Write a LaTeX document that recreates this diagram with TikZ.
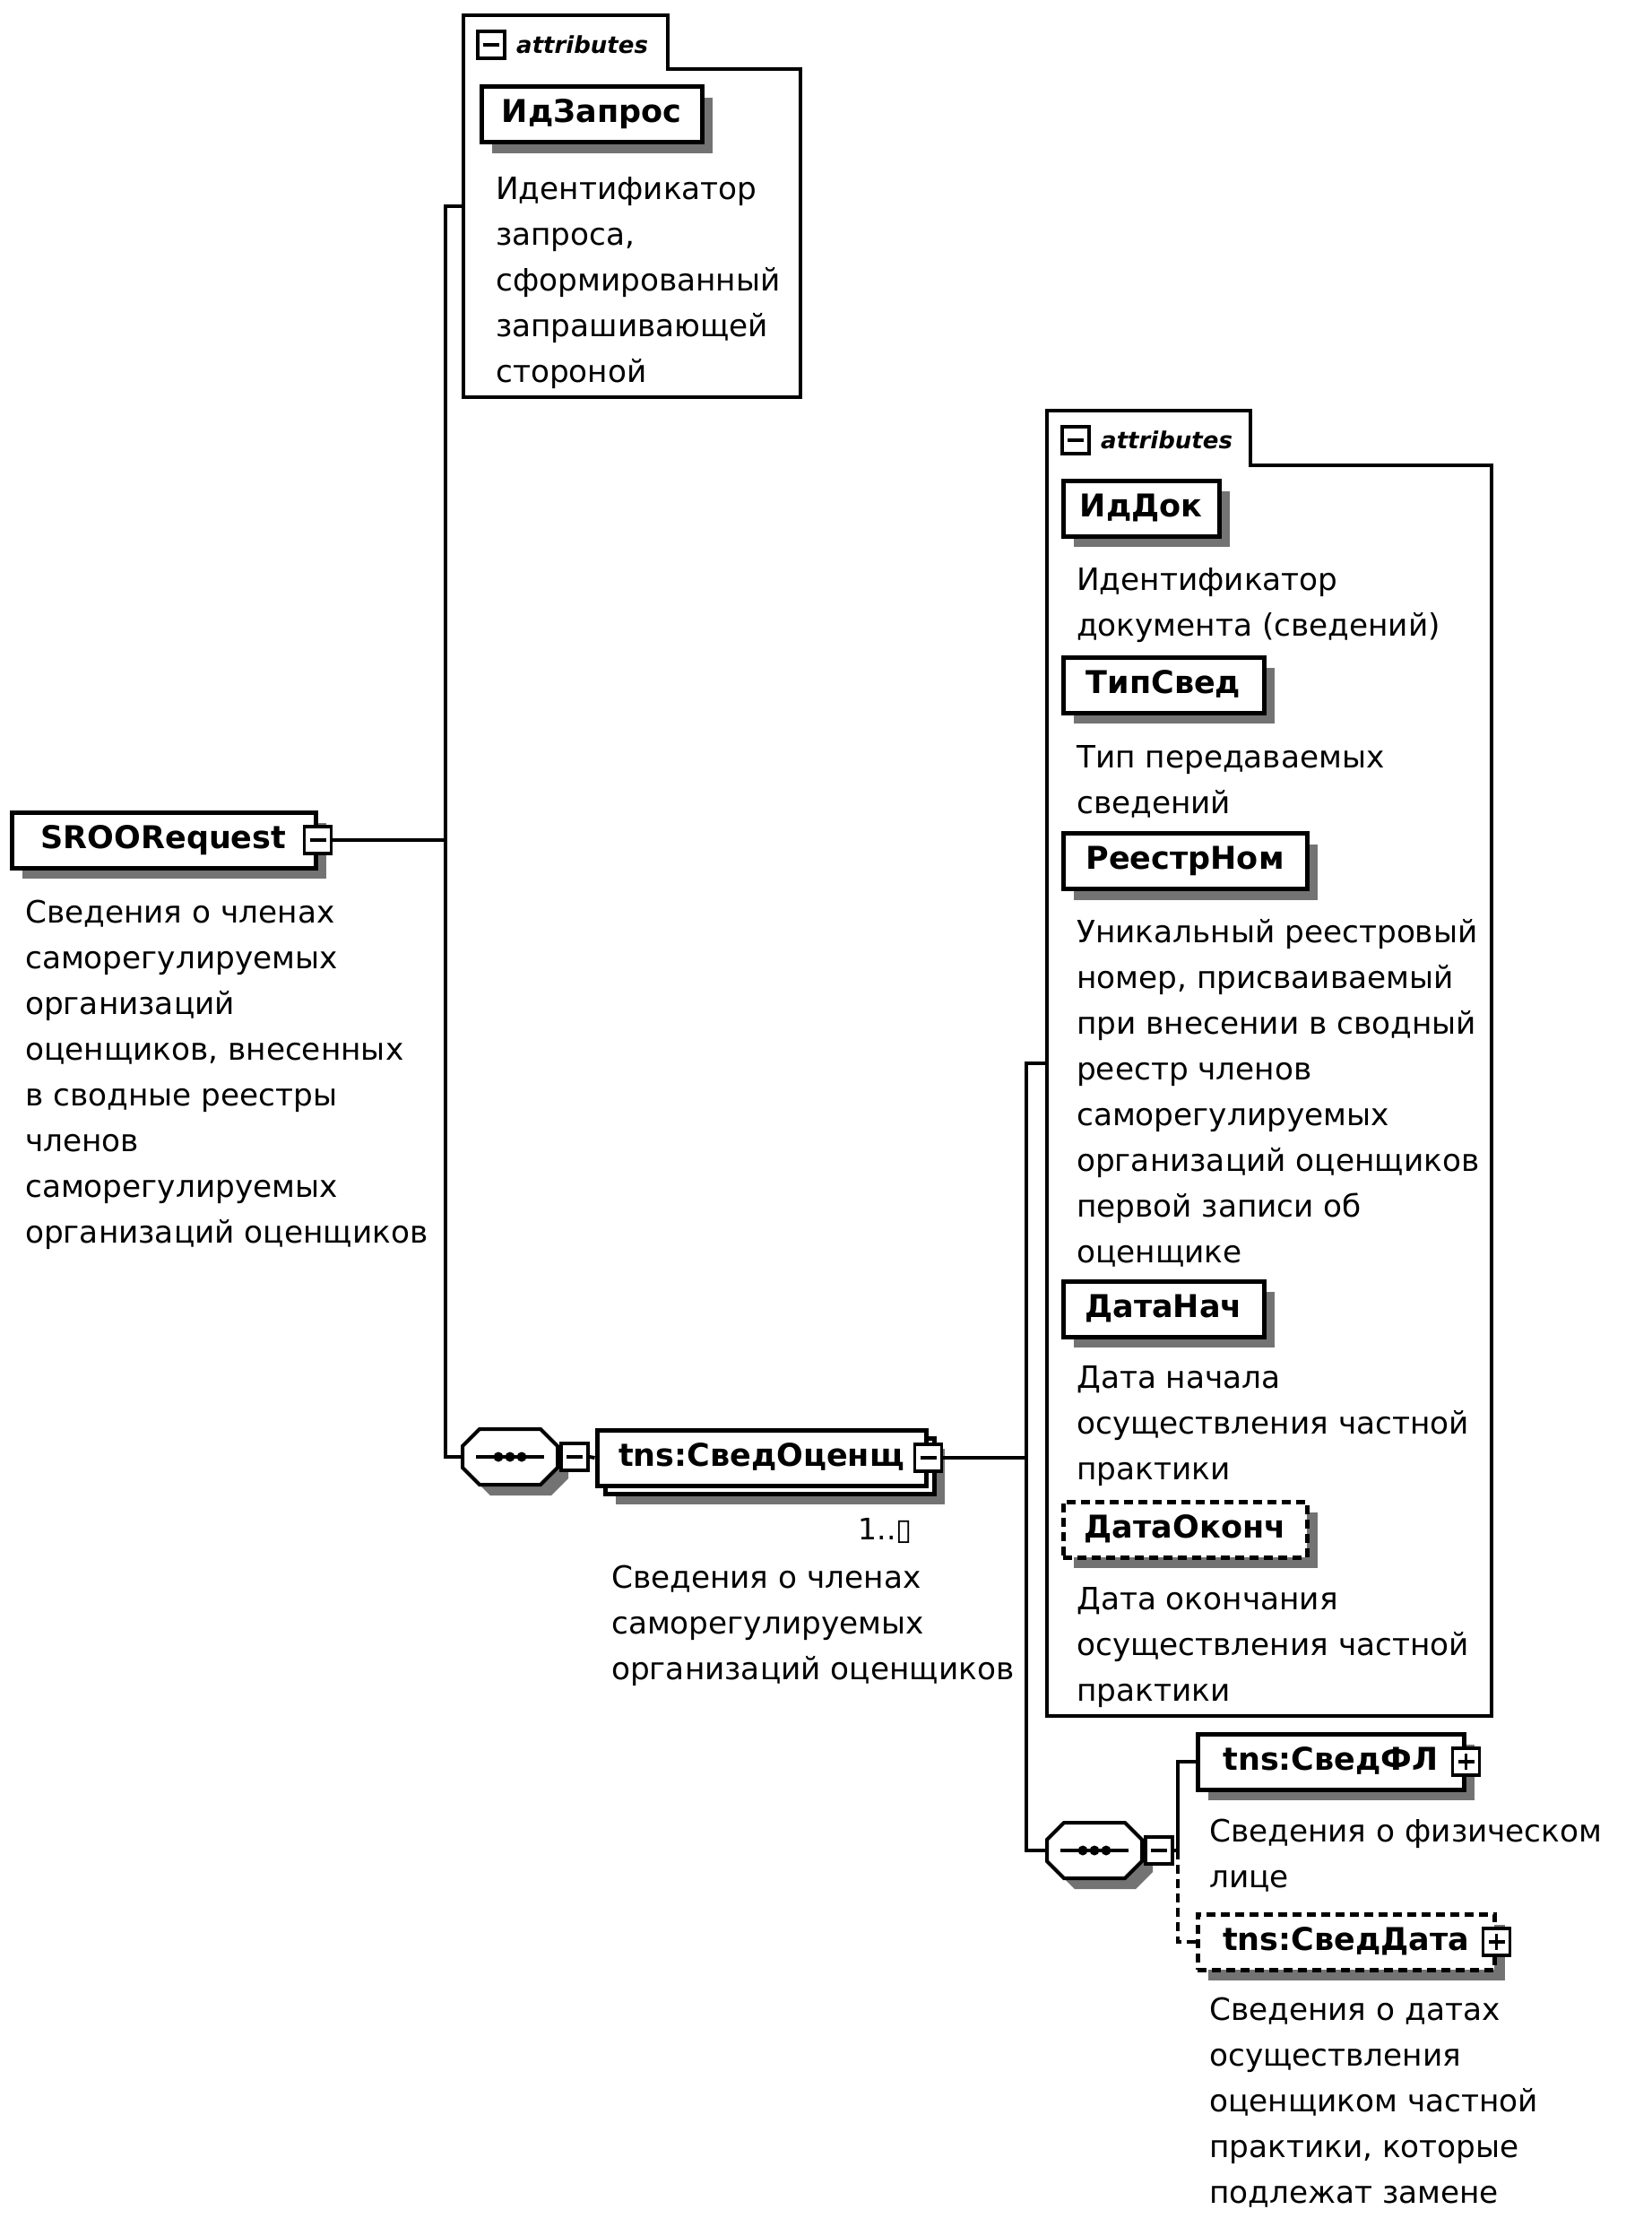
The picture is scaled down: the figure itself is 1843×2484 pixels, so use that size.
\documentclass[tikz,border=0pt]{standalone}
\usepackage{fontspec}
\setmainfont{DejaVu Sans}
\usetikzlibrary{calc, positioning}
\usetikzlibrary{shadows}
\def\bw{5pt}
\def\cw{4pt}
\def\chamf{19pt}
\tikzset{
    xshadow/.style = {
        drop shadow={shadow xshift=12pt, shadow yshift=-12pt, fill=black!55, opacity=1}
    },
    plainbox/.style = {
        draw, rectangle, fill=white, line width=\bw, minimum height=62pt, inner sep=0pt,
        text height=25pt, text depth=7pt, font=\fontsize{35}{42}\selectfont\bfseries
    },
    elem/.style = {plainbox, xshadow},
    optelem/.style = {elem, dash pattern=on 10pt off 6pt},
    btn/.style = {draw, rectangle, fill=white, line width=3.5pt, minimum size=30pt, inner sep=0pt},
    minusbtn/.style = {btn, path picture={
        \draw[line width=3.5pt] ([xshift=6pt] path picture bounding box.west) -- ([xshift=-6pt] path picture bounding box.east);
    }},
    plusbtn/.style = {btn, path picture={
        \draw[line width=3.5pt] ([xshift=6pt] path picture bounding box.west) -- ([xshift=-6pt] path picture bounding box.east);
        \draw[line width=3.5pt] ([yshift=-6pt] path picture bounding box.north) -- ([yshift=6pt] path picture bounding box.south);
    }},
    desc/.style = {anchor=north west, align=left, inner sep=0pt, font=\fontsize{34.3}{51}\selectfont},
    tablabel/.style = {anchor=west, inner sep=0pt, font=\fontsize{26}{30}\selectfont\bfseries\itshape},
    conn/.style = {line width=\cw},
    area/.style = {inner sep=0pt, outer sep=0pt},
    Sequence/.pic = {
        \node [area, minimum width=106pt, minimum height=62pt] (-oct) {};
        \draw [line width=\cw, fill=white, xshadow] ([xshift=\chamf] -oct.north west) -- ([xshift=-\chamf] -oct.north east)
            -- ([yshift=-\chamf] -oct.north east) -- ([yshift=\chamf] -oct.south east)
            -- ([xshift=-\chamf] -oct.south east) -- ([xshift=\chamf] -oct.south west)
            -- ([yshift=\chamf] -oct.south west) -- ([yshift=-\chamf] -oct.north west) -- cycle;
        \draw [line width=\cw] ([xshift=-38pt] -oct.center) -- ([xshift=38pt] -oct.center);
        \foreach \dx in {-13, 0, 13}{
            \fill ([xshift=\dx pt] -oct.center) circle (5.5pt);
        }
        \node [minusbtn] (-btn) at (72, 0) {};
    },
}

\begin{document}
\begin{tikzpicture}[x=1pt, y=-1pt]
    \useasboundingbox (0,0) rectangle (1843,2484);
    % Trunk lines
    \coordinate (trunkA) at (497,0);
    \coordinate (trunkB) at (1145,0);
    \coordinate (trunkC) at (1314,0);

    % Root element
    \node [elem, minimum width=339pt] (sroo) at (182.5,937) {SROORequest};
    \node [minusbtn] (sroo-btn) at (sroo.east) {};
    \node [desc] (sroo-desc) at (28,994) {\strut Сведения о членах\\саморегулируемых\\организаций\\оценщиков, внесенных\\в сводные реестры\\членов\\саморегулируемых\\организаций оценщиков};

    % Attributes of the root
    \node [area, minimum width=376pt, minimum height=426pt] (attrA) at (705,230) {};
    \draw [conn] (attrA.north west) -- ([xshift=228pt] attrA.north west) |- ([yshift=-60pt] attrA.north east)
        -- (attrA.south east) -- (attrA.south west) -- cycle;
    \node [minusbtn] (attrA-btn) at (548,50) {};
    \node [tablabel] (attrA-lbl) at (576,50) {attributes};
    \node [elem, minimum width=246pt] (idzap) at (660,127.5) {ИдЗапрос};
    \node [desc] (idzap-desc) at (553,187) {\strut Идентификатор\\запроса,\\сформированный\\запрашивающей\\стороной};

    % Sequence with СведОценщ
    \pic (seq1) at (569,1625) {Sequence};
    \node [elem, minimum width=367pt] (svoc-back) at (858.5,1635) {};
    \node [plainbox, minimum width=367pt] (svoc) at (849.5,1626) {tns:СведОценщ};
    \node [minusbtn] (svoc-btn) at (svoc.east) {};
    \node [anchor=base east, inner sep=0pt, font=\fontsize{33}{40}\selectfont] (svoc-card) at (1018,1717) {1..▯};
    \node [desc] (svoc-desc) at (682,1736) {\strut Сведения о членах\\саморегулируемых\\организаций оценщиков};

    % Attributes of СведОценщ
    \node [area, minimum width=496pt, minimum height=1456pt] (attrB) at (1416,1186) {};
    \draw [conn] (attrB.north west) -- ([xshift=227pt] attrB.north west) |- ([yshift=-61pt] attrB.north east)
        -- (attrB.south east) -- (attrB.south west) -- cycle;
    \node [minusbtn] (attrB-btn) at (1200,491) {};
    \node [tablabel] (attrB-lbl) at (1228,491) {attributes};
    \node [elem, minimum width=174pt] (iddok) at (1273,567) {ИдДок};
    \node [desc] (iddok-desc) at (1201,623) {\strut Идентификатор\\документа (сведений)};
    \node [elem, minimum width=224pt] (tipsv) at (1298,764) {ТипСвед};
    \node [desc] (tipsv-desc) at (1201,821) {\strut Тип передаваемых\\сведений};
    \node [elem, minimum width=272pt] (reestr) at (1322,960.5) {РеестрНом};
    \node [desc] (reestr-desc) at (1201,1016) {\strut Уникальный реестровый\\номер, присваиваемый\\при внесении в сводный\\реестр членов\\саморегулируемых\\организаций оценщиков\\первой записи об\\оценщике};
    \node [elem, minimum width=224pt] (dnach) at (1298,1460) {ДатаНач};
    \node [desc] (dnach-desc) at (1201,1513) {\strut Дата начала\\осуществления частной\\практики};
    \node [optelem, minimum width=272pt] (dokon) at (1322,1706) {ДатаОконч};
    \node [desc] (dokon-desc) at (1201,1760) {\strut Дата окончания\\осуществления частной\\практики};

    % Inner sequence
    \pic (seq2) at (1221,2064) {Sequence};
    \node [elem, minimum width=297pt] (svfl) at (1484.5,1965) {tns:СведФЛ};
    \node [plusbtn] (svfl-btn) at (svfl.east) {};
    \node [desc] (svfl-desc) at (1349,2019) {\strut Сведения о физическом\\лице};
    \node [optelem, minimum width=331pt] (svdata) at (1501.5,2166) {tns:СведДата};
    \node [plusbtn] (svdata-btn) at (svdata.east) {};
    \node [desc] (svdata-desc) at (1349,2218) {\strut Сведения о датах\\осуществления\\оценщиком частной\\практики, которые\\подлежат замене};

    % Draw connections
    \draw [conn] (sroo-btn.east) -- (sroo-btn.east -| trunkA);
    \draw [conn] (attrA.west) -| (trunkA |- seq1-oct.west) -- (seq1-oct.west);
    \draw [conn] (seq1-btn.east) -- (svoc.west);
    \draw [conn] (svoc-btn.east) -- (svoc-btn.east -| trunkB);
    \draw [conn] (attrB.west) -| (trunkB |- seq2-oct.west) -- (seq2-oct.west);
    \draw [conn] (seq2-btn.east) -| (trunkC |- svfl.west) -- (svfl.west);
    \draw [conn, dash pattern=on 10pt off 6pt] (seq2-btn.east -| trunkC) |- (svdata.west);
\end{tikzpicture}
\end{document}
